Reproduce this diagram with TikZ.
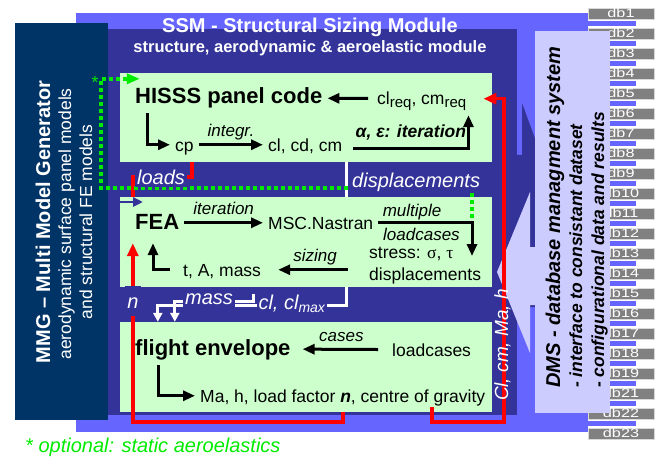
\documentclass[tikz,border=0pt]{standalone}
\usepackage{fontspec}
\setmainfont{Liberation Sans}
\newfontfamily\greekfont{Liberation Serif}
\newfontfamily\dbfont{Liberation Sans}[FakeStretch=1.3]
\usetikzlibrary{arrows.meta,positioning}

\definecolor{bgblue}{RGB}{102,102,255}
\definecolor{ssmblue}{RGB}{51,51,153}
\definecolor{mmgblue}{RGB}{0,51,102}
\definecolor{boxgreen}{RGB}{204,255,204}
\definecolor{dmsblue}{RGB}{204,204,255}
\definecolor{dbgray}{RGB}{128,128,128}
\definecolor{optgreen}{RGB}{0,235,0}

\newcommand{\req}{\raisebox{-0.3ex}{\fontsize{15}{15}\selectfont req}}

\begin{document}
\begin{tikzpicture}[x=1pt, y=-1pt,
    module/.style = {fill=boxgreen, inner sep=0pt, minimum width=372pt, minimum height=90pt},
    txt/.style = {inner xsep=5pt, inner ysep=0pt, text height=12.5pt, text depth=0pt, anchor=base west, font=\fontsize{17.5}{20}\selectfont},
    head/.style = {txt, font=\fontsize{22}{24}\selectfont\bfseries},
    lab/.style = {inner sep=0pt, text height=12pt, text depth=0pt, font=\fontsize{17}{19}\selectfont\itshape},
    wlab/.style = {inner xsep=2pt, inner ysep=2.5pt, text height=14pt, text depth=0pt, fill=ssmblue, text=white, font=\fontsize{20}{22}\selectfont\itshape},
    vtxt/.style = {rotate=90, inner sep=0pt, text=white},
    dbbox/.style = {fill=dbgray, draw=gray!30, line width=0.8pt, inner sep=0pt, minimum width=66pt, minimum height=11pt, text=white, font=\dbfont\fontsize{12.5}{12}\selectfont},
    flow/.style = {line width=3pt, -{Triangle[length=12pt,width=10pt]}},
    red flow/.style = {red, line width=3.5pt},
    white flow/.style = {white, line width=3pt, -{Triangle[length=9pt,width=9pt]}},
    opt flow/.style = {optgreen, line width=3.5pt, dash pattern=on 3.5pt off 3.5pt, -{Triangle[length=13pt,width=10pt]}}]

    \useasboundingbox (0,0) rectangle (660,457);
    \fill[bgblue] (76,13) rectangle (588,432);

    % database stack
    \foreach \n [count=\i from 0] in {1,...,19,21,22,23} {
        \ifnum\i<21 \fill[bgblue] (588,21+20*\i) rectangle (636,26+20*\i); \fi
        \node[dbbox] (db\n) at (621,13.5+20*\i) {db\n};
    }

    \fill[ssmblue] (76,29) rectangle (517,415);
    \fill[ssmblue] (522,103) -- (540,152) -- (540,307) -- (517,307) -- (517,155) -- (522,155) -- cycle;
    \fill[dmsblue] (530,192) -- (497,272) -- (530,353) -- (530,305) -- (537,305) -- (537,247) -- (530,247) -- cycle;

    \node[fill=dmsblue, inner sep=0pt, minimum width=75pt, minimum height=382pt] (dms) at (572.5,222) {};
    \node[vtxt, text=black, anchor=base west, font=\fontsize{20}{22}\selectfont\bfseries\itshape] (dms1) at (560,388) {DMS - database managment system};
    \node[vtxt, text=black, anchor=base west, font=\fontsize{17.5}{20}\selectfont\bfseries\itshape] (dms2) at (582,388) {- interface to consistant dataset};
    \node[vtxt, text=black, anchor=base west, font=\fontsize{17.5}{20}\selectfont\bfseries\itshape] (dms3) at (604,388) {- configurational data and results};

    \node[fill=mmgblue, inner sep=0pt, minimum width=93pt, minimum height=397pt] (mmg) at (61.5,221.5) {};
    \node[vtxt, anchor=base, font=\fontsize{20}{22}\selectfont\bfseries] (mmg1) at (50,222) {MMG – Multi Model Generator};
    \node[vtxt, anchor=base, font=\fontsize{17.5}{20}\selectfont] (mmg2) at (71,224) {aerodynamic surface panel models};
    \node[vtxt, anchor=base, font=\fontsize{17.5}{20}\selectfont] (mmg3) at (92,222) {and structural FE models};

    \node[text=white, anchor=base, font=\fontsize{20}{22}\selectfont\bfseries] (ssm) at (310,33) {SSM - Structural Sizing Module};
    \node[text=white, anchor=base, font=\fontsize{16.5}{18}\selectfont\bfseries] (ssmsub) at (310,53) {structure, aerodynamic \& aeroelastic module};

    \node[module, minimum height=89pt] (hisss) at (306,117.5) {};
    \node[module] (fea) at (306,242) {};
    \node[module] (flt) at (306,367) {};

    % panel code
    \node[head] (hname) at (130,104) {HISSS panel code};
    \node[txt] (clreq) at (372,105) {cl\req, cm\req};
    \node[txt] (cp) at (170,151) {cp};
    \node[txt] (clcd) at (263,151) {cl, cd, cm};

    \draw[flow, shorten <=4pt] (clreq) -- (hname);
    \draw[flow] ([xshift=17pt,yshift=-9pt]hname.south west) |- (cp.west);
    \draw[flow] (cp) -- node[lab, above=7pt] {integr.} (clcd);
    \draw[flow] ([xshift=6pt,yshift=-4pt]clcd.east) -| node[lab, pos=0.25, above=10pt, font=\fontsize{17.5}{20}\selectfont\bfseries\itshape] {α, ε: iteration} ([xshift=-3pt,yshift=-10pt]clreq.south east);

    % structure
    \node[head] (fname) at (130,229) {FEA};
    \node[txt] (nastran) at (263,229) {MSC.Nastran};
    \node[txt] (stress) at (364,258) {stress: {\greekfont σ}, {\greekfont τ}};
    \node[txt] (disp) at (364,280) {displacements};
    \node[txt] (tam) at (178,276) {t, A, mass};
    \coordinate (mlc) at (472,256);

    \draw[flow] (fname) -- node[lab, above=7pt] {iteration} (nastran);
    \draw[flow] (nastran) -| node[lab, pos=0.18, above=5pt] {multiple} node[lab, pos=0.23, below=4pt] {loadcases} (mlc);
    \draw[flow, shorten <=16pt, shorten >=12pt] (tam -| stress.west) -- node[lab, above=7pt] {sizing} (tam.east);
    \draw[flow] ([xshift=-8pt]tam.west) -| ([xshift=23pt,yshift=-14pt]fname.south west);

    % flight envelope
    \node[head] (flname) at (130,355) {flight envelope};
    \node[txt] (loadc) at (387,356) {loadcases};
    \node[txt] (ma) at (195,402) {Ma, h, load factor \textbf{\textit{n}}, centre of gravity};

    \draw[flow, shorten <=9pt, shorten >=7pt] (loadc) -- node[lab, above=6pt] {cases} (flname);
    \draw[flow] ([xshift=28pt,yshift=-10pt]flname.south west) |- (ma.west);

    % data flow between the modules
    \coordinate (redcorner) at (504,422);
    \coordinate (feain) at (143,202);
    \coordinate (optcorner) at (101,188);
    \coordinate (masstick) at (253,294);

    \draw[red flow] ([xshift=72pt]hisss.south west) -- ++(0,15) -| ([xshift=13pt]fea.north west);
    \draw[red flow, -{Triangle[length=13pt,width=11pt]}] ([xshift=37pt]flt.south) -- ++(0,10) -| ([xshift=13pt,yshift=44pt]fea.south west);
    \draw[red flow, -{Triangle[length=13pt,width=11pt]}] ([xshift=126pt,yshift=5pt]flt.south) |- (redcorner) |- ([xshift=12pt]clreq.east);

    \draw[white, line width=3pt] ([xshift=227pt]hisss.south west) -- ([xshift=227pt]fea.north west);
    \draw[white flow] (masstick) -- ++(0,7) -| ([xshift=55pt]flt.north west);
    \draw[white flow] ([xshift=227pt]fea.south west) -- ++(0,18) -| ([xshift=38pt]flt.north west);

    \draw[opt flow] ([xshift=352pt,yshift=-21pt]fea.north west) |- (optcorner) |- ([xshift=20pt,yshift=-6pt]hisss.north west);
    \node[text=optgreen, anchor=base, inner sep=0pt, font=\fontsize{17.5}{20}\selectfont] (star) at (95,89) {*};
    \draw[ssmblue, line width=2.5pt, -{Triangle[length=10pt,width=9pt]}] (mmg.east |- feain) -- (feain);

    \node[wlab] (loads) at (161,177) {loads};
    \node[wlab, anchor=west] (displbl) at (350,180) {displacements};
    \node[wlab] (masslbl) at (209,297) {mass};
    \node[wlab] (cllbl) at (292,302) {cl, cl\textsubscript{max}};
    \node[wlab, inner ysep=8pt] (nlbl) at (133,301) {n};
    \node[vtxt, anchor=base, font=\fontsize{19}{21}\selectfont\itshape] (clcm) at (508,345) {Cl, cm, Ma, h};

    \node[text=optgreen, anchor=base west, inner sep=0pt, font=\fontsize{20}{22}\selectfont\itshape] (note) at (25,452) {* optional: static aeroelastics};

\end{tikzpicture}
\end{document}
